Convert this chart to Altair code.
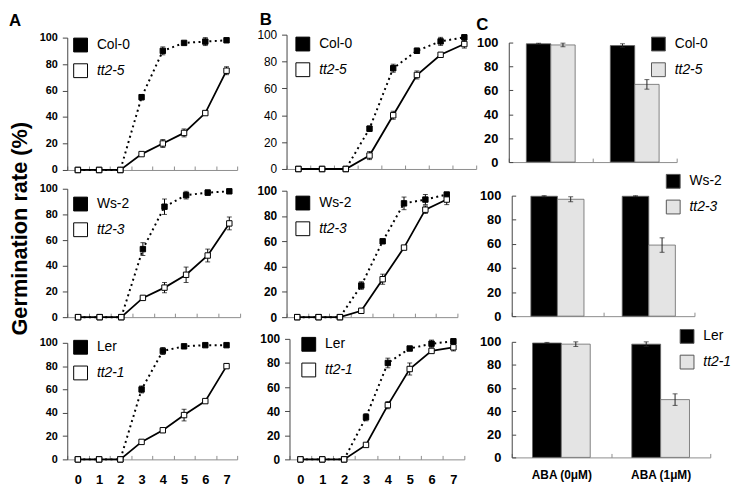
import altair as alt
import pandas as pd

FONT = "Liberation Sans"

days = [0, 1, 2, 3, 4, 5, 6, 7]
treatments = ["ABA (0μM)", "ABA (1μM)"]
pairs = [("Col-0", "tt2-5"), ("Ws-2", "tt2-3"), ("Ler", "tt2-1")]

# ---- Panel A values (germination %, error) ----
a1_wt = [0, 0, 0, 55, 90, 96, 97, 98]
a1_wt_err = [0, 0, 0, 2, 3, 1, 3, 1]
a1_mut = [0, 0, 0, 12, 20, 28, 43, 75]
a1_mut_err = [0, 0, 0, 1, 3, 3, 1, 3]

a2_wt = [0, 0, 0, 53, 86, 95, 97, 98]
a2_wt_err = [0, 0, 0, 5, 6, 3, 2, 1]
a2_mut = [0, 0, 0, 15, 23, 33, 48, 73]
a2_mut_err = [0, 0, 0, 1, 4, 6, 5, 5]

a3_wt = [0, 0, 0, 60, 93, 97, 98, 98]
a3_wt_err = [0, 0, 0, 3, 3, 1, 1, 1]
a3_mut = [0, 0, 0, 15, 25, 38, 50, 80]
a3_mut_err = [0, 0, 0, 1, 2, 5, 1, 2]

# ---- Panel B values ----
b1_wt = [0, 0, 0, 30, 75, 88, 95, 98]
b1_wt_err = [0, 0, 0, 2, 3, 2, 3, 2]
b1_mut = [0, 0, 0, 10, 40, 70, 85, 93]
b1_mut_err = [0, 0, 0, 3, 3, 3, 1, 3]

b2_wt = [0, 0, 0, 25, 60, 90, 93, 97]
b2_wt_err = [0, 0, 0, 3, 1, 5, 4, 1]
b2_mut = [0, 0, 0, 5, 30, 55, 85, 93]
b2_mut_err = [0, 0, 0, 2, 4, 1, 3, 4]

b3_wt = [0, 0, 0, 35, 80, 92, 96, 98]
b3_wt_err = [0, 0, 0, 3, 4, 1, 3, 2]
b3_mut = [0, 0, 0, 12, 45, 75, 90, 93]
b3_mut_err = [0, 0, 0, 1, 3, 5, 1, 3]

# ---- Panel C values (per treatment) ----
c1_wt = [99, 97.5]
c1_wt_err = [0.5, 1.5]
c1_mut = [98, 65]
c1_mut_err = [1.5, 4]

c2_wt = [99.5, 99.5]
c2_wt_err = [0.5, 0.5]
c2_mut = [97, 59]
c2_mut_err = [2, 6]

c3_wt = [99, 98]
c3_wt_err = [0.5, 2]
c3_mut = [98, 50]
c3_mut_err = [2, 5]

# ---- layout (pixels) ----
COL_BASE = {"A": 67, "B": 289, "C": 514}
COL_W = {"A": 202, "B": 205, "C": 204}
ROW_BASE = [30, 186, 338]
ROW_H = [146, 142, 122]

GEO = {
    ("A", 0): (67, 239, 33, 167),
    ("A", 1): (67, 242, 186, 316),
    ("A", 2): (67, 239, 342, 460),
    ("B", 0): (289, 481, 30, 166),
    ("B", 1): (289, 462, 188, 316),
    ("B", 2): (292, 469, 338, 460),
    ("C", 0): (514, 684, 38, 159),
    ("C", 1): (517, 702, 193, 315),
    ("C", 2): (517, 718, 341, 458),
}
LEG = {
    ("A", 0): (73, 33), ("A", 1): (73, 194), ("A", 2): (73, 339),
    ("B", 0): (298, 32), ("B", 1): (298, 193), ("B", 2): (304, 336),
    ("C", 0): (658, 32), ("C", 1): (673, 171), ("C", 2): (687, 328),
}


def box(col, row):
    cb, rb = COL_BASE[col], ROW_BASE[row]
    x0, x1, y0, y1 = GEO[(col, row)]
    lx, ly = LEG[(col, row)]
    return x0 - cb, x1 - cb, y0 - rb, y1 - rb, lx - cb, ly - rb


def x_axis(yb, labels, size, gap):
    return alt.Axis(orient="top", offset=-yb, tickBand="extent", domainColor="#8c8c8c",
                    tickColor="#8c8c8c", tickSize=4, labels=labels, labelAngle=0,
                    labelBaseline="top", labelPadding=-(4 + gap), labelFont=FONT,
                    labelFontSize=size, labelFontWeight="bold", labelColor="black",
                    title=None, grid=False)


def y_axis_left(xl, size, weight, title=None, tx=0, ty=0):
    kw = dict(values=[0, 20, 40, 60, 80, 100], offset=-xl, tickSize=5, tickColor="#444",
              domainColor="#444", labelFont=FONT, labelFontSize=size, labelFontWeight=weight,
              labelColor="black", labelPadding=5, grid=False, title=None)
    if title:
        kw.update(title=title, titleX=tx, titleY=ty, titleAngle=270, titleBaseline="middle",
                  titleAlign="center", titleFont=FONT, titleFontSize=22, titleFontWeight="bold",
                  titleColor="black")
    return alt.Axis(**kw)


def y_axis_inner(xl, width, size):
    return alt.Axis(orient="right", values=[0, 20, 40, 60, 80, 100], offset=xl - width,
                    tickSize=4, tickColor="#444", domainColor="#444", labelFont=FONT,
                    labelFontSize=size, labelFontWeight="bold", labelColor="black",
                    labelAlign="right", labelPadding=-15, grid=False, title=None)


def legend(lx, ly, mut, stroke):
    return alt.Legend(orient="none", legendX=lx, legendY=ly, title=None, padding=0,
                      symbolType="square", symbolSize=196, symbolStrokeColor=stroke,
                      symbolStrokeWidth=1, symbolOpacity=1, labelFont=FONT, labelFontSize=14,
                      labelColor="black", labelOffset=9, rowPadding=7,
                      labelFontStyle={"expr": f"datum.label == '{mut}' ? 'italic' : 'normal'"})


def letter(text, dx, off):
    return alt.TitleParams(text=text, anchor="start", frame="group", dx=dx, offset=off,
                           fontSize=17, font=FONT, fontWeight="bold", color="black")


def line_panel(col, row, wt_vals, wt_err, mut_vals, mut_err, ysize, yweight, xlabels,
               title=None, ytitle=None):
    wt, mut = pairs[row]
    xl, xr, yt, yb, lx, ly = box(col, row)
    recs = []
    for g, vals, errs in ((wt, wt_vals, wt_err), (mut, mut_vals, mut_err)):
        for d, v, e in zip(days, vals, errs):
            recs.append({"day": d, "geno": g, "val": v, "err": e, "lo": v - e, "hi": v + e})
    df = pd.DataFrame(recs)
    xs = alt.Scale(type="band", paddingInner=0, paddingOuter=0, range=[xl, xr])
    ys = alt.Scale(domain=[0, 100], range=[yb, yt], nice=False)
    xax = x_axis(yb, xlabels, 13, 14)
    if ytitle:
        yax = y_axis_left(xl, ysize, yweight, ytitle, tx=-48 - xl, ty=226 - ROW_BASE[row])
    else:
        yax = y_axis_left(xl, ysize, yweight)

    def X():
        return alt.X("day:O", scale=xs, axis=xax)

    def Y(f):
        return alt.Y(f, scale=ys, axis=yax)

    base = alt.Chart(df)
    line_wt = base.transform_filter(alt.datum.geno == wt).mark_line(
        color="black", strokeWidth=2, strokeDash=[2, 3.5]).encode(x=X(), y=Y("val:Q"))
    line_mut = base.transform_filter(alt.datum.geno == mut).mark_line(
        color="black", strokeWidth=1.8).encode(x=X(), y=Y("val:Q"))
    eb = base.transform_filter("datum.err > 0")
    rules = eb.mark_rule(color="black", strokeWidth=1).encode(x=X(), y=Y("lo:Q"), y2="hi:Q")
    caps = eb.transform_fold(["lo", "hi"], as_=["k", "v"]).mark_tick(
        color="black", size=5, thickness=1).encode(x=X(), y=Y("v:Q"))
    pts = base.mark_point(shape="square", filled=True, size=30, opacity=1, stroke="black",
                          strokeWidth=1).encode(
        x=X(), y=Y("val:Q"),
        fill=alt.Fill("geno:N", scale=alt.Scale(domain=[wt, mut], range=["black", "white"]),
                      legend=legend(lx, ly, mut, "black")))
    ch = alt.layer(line_wt, line_mut, rules, caps, pts).properties(width=COL_W[col], height=ROW_H[row])
    if title:
        ch = ch.properties(title=title)
    return ch


def bar_panel(col, row, wt_vals, wt_err, mut_vals, mut_err, xlabels, title=None):
    wt, mut = pairs[row]
    xl, xr, yt, yb, lx, ly = box(col, row)
    recs = []
    for g, vals, errs in ((wt, wt_vals, wt_err), (mut, mut_vals, mut_err)):
        for t, v, e in zip(treatments, vals, errs):
            recs.append({"treat": t, "geno": g, "val": v, "err": e, "lo": v - e, "hi": v + e})
    df = pd.DataFrame(recs)
    xs = alt.Scale(type="band", paddingInner=0, paddingOuter=0, range=[xl, xr])
    ys = alt.Scale(domain=[0, 100], range=[yb, yt], nice=False)
    os_ = alt.Scale(domain=[wt, mut], paddingInner=0, paddingOuter=0.72)
    xax = x_axis(yb, xlabels, 12, 12)
    yax = y_axis_inner(xl, COL_W[col], 13)

    def X():
        return alt.X("treat:N", sort=treatments, scale=xs, axis=xax)

    def XO():
        return alt.XOffset("geno:N", sort=[wt, mut], scale=os_)

    def Y(f):
        return alt.Y(f, scale=ys, axis=yax)

    base = alt.Chart(df)
    bars = base.mark_bar(stroke="#666", strokeWidth=0.8).encode(
        x=X(), xOffset=XO(), y=Y("val:Q"),
        fill=alt.Fill("geno:N", scale=alt.Scale(domain=[wt, mut], range=["black", "#e4e4e4"]),
                      legend=legend(lx, ly, mut, "#555")))
    rules = base.mark_rule(color="#222", strokeWidth=1).encode(
        x=X(), xOffset=XO(), y=Y("lo:Q"), y2="hi:Q")
    caps = base.transform_fold(["lo", "hi"], as_=["k", "v"]).mark_tick(
        color="#222", size=5, thickness=1).encode(x=X(), xOffset=XO(), y=Y("v:Q"))
    ch = alt.layer(bars, rules, caps).properties(width=COL_W[col], height=ROW_H[row])
    if title:
        ch = ch.properties(title=title)
    return ch


A1 = line_panel("A", 0, a1_wt, a1_wt_err, a1_mut, a1_mut_err, 11, "bold", False, title=letter("A", -59, 2))
A2 = line_panel("A", 1, a2_wt, a2_wt_err, a2_mut, a2_mut_err, 11, "bold", False, ytitle="Germination rate (%)")
A3 = line_panel("A", 2, a3_wt, a3_wt_err, a3_mut, a3_mut_err, 11, "bold", True)
B1 = line_panel("B", 0, b1_wt, b1_wt_err, b1_mut, b1_mut_err, 12, "normal", False, title=letter("B", -27, 0))
B2 = line_panel("B", 1, b2_wt, b2_wt_err, b2_mut, b2_mut_err, 12, "bold", False)
B3 = line_panel("B", 2, b3_wt, b3_wt_err, b3_mut, b3_mut_err, 12, "bold", True)
C1 = bar_panel("C", 0, c1_wt, c1_wt_err, c1_mut, c1_mut_err, False, title=letter("C", -33, 1))
C2 = bar_panel("C", 1, c2_wt, c2_wt_err, c2_mut, c2_mut_err, False)
C3 = bar_panel("C", 2, c3_wt, c3_wt_err, c3_mut, c3_mut_err, True)

chart = alt.concat(A1, B1, C1, A2, B2, C2, A3, B3, C3, columns=3, align="each",
                   bounds="flush", spacing={"row": 10, "column": 20}).resolve_scale(
    x="independent", y="independent", fill="independent",
    xOffset="independent").resolve_legend(fill="independent").properties(
    padding=0, background="white").configure_view(strokeWidth=0)

chart.save("out.html", embed_options={"renderer": "svg", "actions": False})
